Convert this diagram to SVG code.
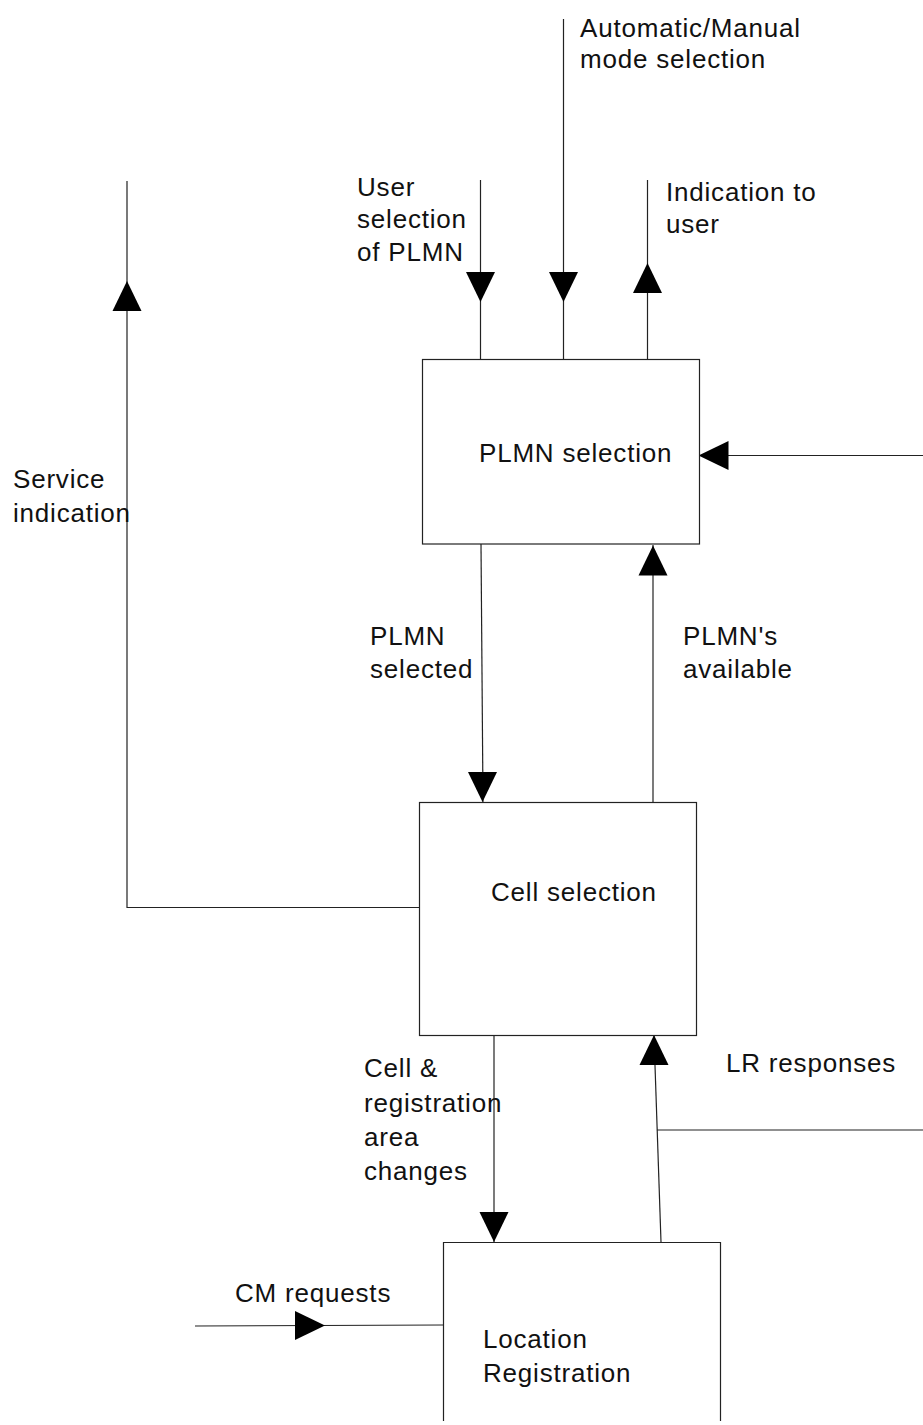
<svg xmlns="http://www.w3.org/2000/svg" xmlns:xlink="http://www.w3.org/1999/xlink" width="923" height="1425" viewBox="0 0 923 1425">
<style>
.box{fill:#fff;stroke:#222;stroke-width:1.2}
.ln{fill:none;stroke:#222;stroke-width:1.2}
.ah{fill:#000}
text{font-family:"Liberation Sans",Arial,sans-serif;font-size:26px;letter-spacing:0.8px;fill:#111}
</style>
<defs>
<path id="arr" d="M0,0 L-30,-14.5 L-30,14.5 Z"/>
</defs>
<rect width="923" height="1425" fill="#fff"/>
<g id="connectors">
<line class="ln" x1="480.5" y1="180" x2="480.5" y2="359"/>
<line class="ln" x1="563.5" y1="19" x2="563.5" y2="359"/>
<line class="ln" x1="647.5" y1="180" x2="647.5" y2="361"/>
<line class="ln" x1="923" y1="455.5" x2="699" y2="455.5"/>
<polyline class="ln" points="127,181 127,907.5 419,907.5"/>
<line class="ln" x1="481" y1="544" x2="483" y2="802"/>
<line class="ln" x1="653" y1="545" x2="653" y2="802"/>
<line class="ln" x1="494" y1="1035" x2="494" y2="1242"/>
<line class="ln" x1="923" y1="1130" x2="657" y2="1130"/>
<line class="ln" x1="661" y1="1242" x2="654" y2="1036"/>
<line class="ln" x1="195" y1="1326" x2="443" y2="1325"/>
<use xlink:href="#arr" class="ah" transform="translate(480.5,302) rotate(90)"/>
<use xlink:href="#arr" class="ah" transform="translate(563.5,302) rotate(90)"/>
<use xlink:href="#arr" class="ah" transform="translate(647.5,263) rotate(-90)"/>
<use xlink:href="#arr" class="ah" transform="translate(698.5,455.5) rotate(180)"/>
<use xlink:href="#arr" class="ah" transform="translate(127,281) rotate(-90)"/>
<use xlink:href="#arr" class="ah" transform="translate(482.5,802) rotate(90)"/>
<use xlink:href="#arr" class="ah" transform="translate(653,545.5) rotate(-90)"/>
<use xlink:href="#arr" class="ah" transform="translate(494,1242) rotate(90)"/>
<use xlink:href="#arr" class="ah" transform="translate(654,1035) rotate(-90)"/>
<use xlink:href="#arr" class="ah" transform="translate(325,1325.5)"/>
</g>
<g id="plmn-selection">
<rect class="box" x="422.5" y="359.5" width="277" height="184.5"/>
<text x="479" y="462">PLMN selection</text>
</g>
<g id="cell-selection">
<rect class="box" x="419.5" y="802.5" width="277" height="233"/>
<text x="491" y="901">Cell selection</text>
</g>
<g id="location-registration">
<path class="box" d="M443.5,1421 V1242.5 H720.5 V1421"/>
<text x="483" y="1348">Location</text>
<text x="483" y="1382">Registration</text>
</g>
<g id="labels">
<text x="580" y="37">Automatic/Manual</text>
<text x="580" y="68">mode selection</text>
<text x="357" y="196">User</text>
<text x="357" y="228">selection</text>
<text x="357" y="261">of PLMN</text>
<text x="666" y="201">Indication to</text>
<text x="666" y="233">user</text>
<text x="13" y="488">Service</text>
<text x="13" y="522">indication</text>
<text x="370" y="645">PLMN</text>
<text x="370" y="678">selected</text>
<text x="683" y="645">PLMN's</text>
<text x="683" y="678">available</text>
<text x="364" y="1077">Cell &amp;</text>
<text x="364" y="1112">registration</text>
<text x="364" y="1146">area</text>
<text x="364" y="1180">changes</text>
<text x="726" y="1072">LR responses</text>
<text x="235" y="1302">CM requests</text>
</g>
</svg>
